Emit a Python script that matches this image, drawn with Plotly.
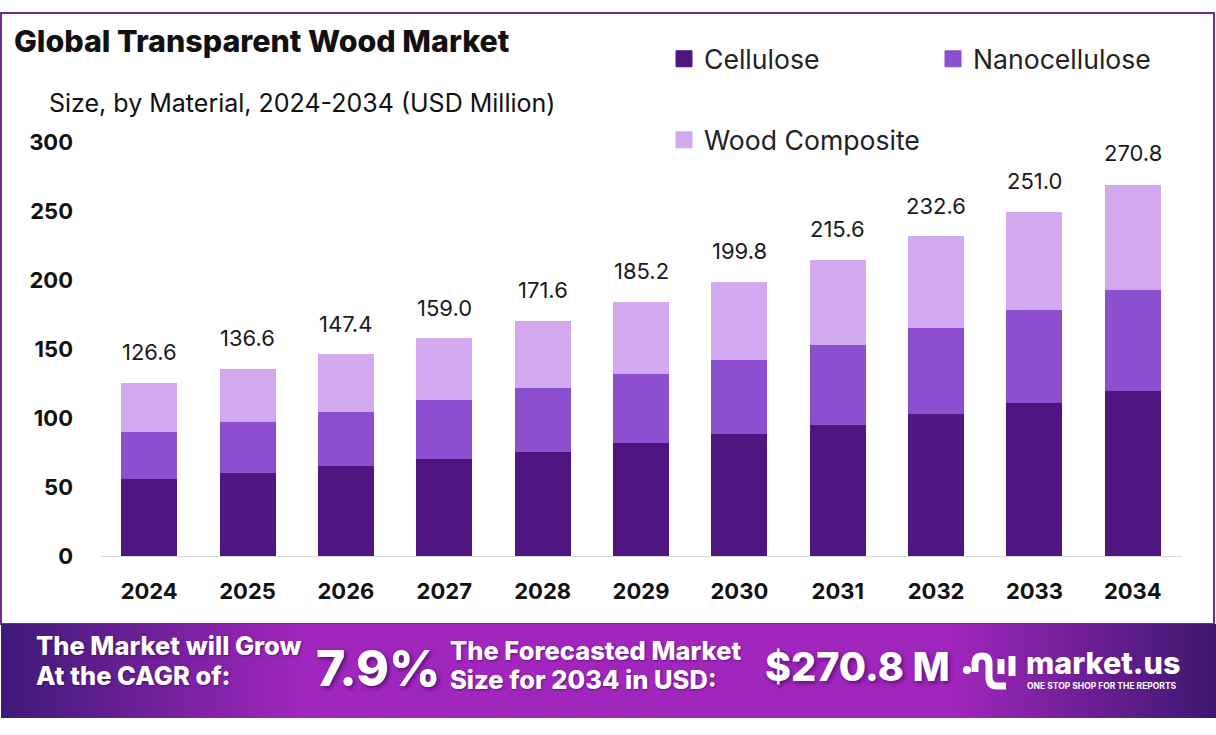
import plotly.graph_objects as go

W, H = 1216, 735
FONT = "Inter"
years = ["2024","2025","2026","2027","2028","2029","2030","2031","2032","2033","2034"]
cellulose = [55.8,60.1,65.2,70.3,75.4,81.9,88.4,94.9,102.9,110.9,119.6]
nanocellulose = [34.1,36.9,39.1,42.7,46.3,50.0,53.6,58.0,62.3,67.4,73.2]
wood_composite = [35.5,38.5,42.1,45.0,48.6,52.1,56.6,61.6,66.7,71.0,76.0]
totals = [126.6,136.6,147.4,159.0,171.6,185.2,199.8,215.6,232.6,251.0,270.8]
y_ticks = [0,50,100,150,200,250,300]
band_steps = [0,1,2,3]
band_colorscale = [[0,"#3f1a78"],[0.25,"#a126bd"],[0.78,"#a126bd"],[1,"#3d1870"]]

def px(x): return x/W
def py(y): return 1-y/H

fig = go.Figure()
series = [("Cellulose",cellulose,"#4f1580","legend"),
          ("Nanocellulose",nanocellulose,"#8b4fcf","legend2"),
          ("Wood Composite",wood_composite,"#d2a9ee","legend3")]
for name, vals, col, leg in series:
    fig.add_trace(go.Bar(x=years,y=vals,name=name,marker=dict(color=col,line=dict(width=0)),showlegend=False,hoverinfo="skip"))
for name, vals, col, leg in series:
    fig.add_trace(go.Scatter(x=[years[0]],y=[None],mode="markers",name=name,legend=leg,showlegend=True,
                             marker=dict(symbol="square",size=16,color=col,line=dict(width=1,color=col)),hoverinfo="skip"))

fig.add_trace(go.Heatmap(z=[band_steps,band_steps],x=band_steps,y=[0,1],xaxis="x2",yaxis="y2",
                         colorscale=band_colorscale,showscale=False,zsmooth="best",hoverinfo="skip"))

ann = []
for i, t in enumerate(totals):
    ann.append(dict(x=i,y=t,xref="x",yref="y",text=f"{t:.1f}",showarrow=False,yanchor="bottom",yshift=14,
                    font=dict(family=FONT,size=22,color="#1a1a1a")))

def label(x,y,text,size,color="#111111",weight=400,anchor="left",shadow=None):
    f = dict(family=FONT,size=size,color=color,weight=weight)
    if shadow: f["shadow"]=shadow
    ann.append(dict(x=px(x-2),y=py(y),xref="paper",yref="paper",text=text,showarrow=False,xanchor=anchor,yanchor="middle",font=f,align="left"))

label(14,41,"Global Transparent Wood Market",30.4,weight=800)
label(49,103,"Size, by Material, 2024-2034 (USD Million)",25)
white="#ffffff"; sh="2px 2px 4px rgba(40,0,70,0.6)"; sh2="1px 1px 2px rgba(40,0,70,0.5)"
label(36,645,"The Market will Grow",25.5,white,800,shadow=sh2)
label(36,675,"At the CAGR of:",25.5,white,800,shadow=sh2)
label(316,668,"7.9%",50,white,800,shadow=sh)
label(450,650,"The Forecasted Market",25.5,white,800,shadow=sh2)
label(450,679,"Size for 2034 in USD:",25.5,white,800,shadow=sh2)
label(765,667,"$270.8 M",39.5,white,800,shadow=sh)
label(1026,662,"market.us",30.5,white,800)
label(1027,686,"ONE STOP SHOP FOR THE REPORTS",8.5,white,700)

legend_base = dict(bgcolor="rgba(0,0,0,0)",font=dict(family=FONT,size=26.6,color="#222222"),
                   yanchor="middle",xanchor="left",itemclick=False,itemdoubleclick=False)

def path(cmds):
    out=[]
    for c in cmds:
        if isinstance(c,str): out.append(c)
        else: out.append(f"{px(c[0]):.5f},{py(c[1]):.5f}")
    return " ".join(out)

shapes = [
    dict(type="rect",xref="paper",yref="paper",x0=px(1),x1=px(1214),y0=py(13),y1=py(624),
         line=dict(color="#6e2c91",width=2),fillcolor="rgba(0,0,0,0)",layer="below"),
    dict(type="circle",xref="paper",yref="paper",x0=px(963),x1=px(971),y0=py(674),y1=py(666),fillcolor="white",line=dict(width=0)),
    dict(type="path",xref="paper",yref="paper",line=dict(color="white",width=7),
         path=path(["M",(975,672),"L",(975,664),"Q",(975,656),(982,656),"Q",(989,656),(989,664),"L",(989,677),"Q",(989,686),(997,686),"L",(1006,686)])),
    dict(type="path",xref="paper",yref="paper",line=dict(color="white",width=7),
         path=path(["M",(1001,674),"L",(1001,659)])),
    dict(type="path",xref="paper",yref="paper",line=dict(color="white",width=7),
         path=path(["M",(1012,676),"L",(1012,656)])),
]

fig.update_layout(
    width=W,height=H,margin=dict(l=0,r=0,t=0,b=0,autoexpand=False),
    paper_bgcolor="white",plot_bgcolor="rgba(0,0,0,0)",barmode="stack",bargap=0.43,showlegend=True,
    font=dict(family=FONT),
    xaxis=dict(domain=[px(100),px(1182)],type="category",categoryorder="array",categoryarray=years,range=[-0.5,10.5],
               showgrid=False,showline=True,linecolor="#d9d9d9",linewidth=1,
               ticks="",tickfont=dict(family=FONT,size=22,color="#111111",weight=700),ticklabelstandoff=16,anchor="y"),
    yaxis=dict(domain=[py(556),py(142)],range=[0,300],tickvals=y_ticks,showgrid=False,showline=False,zeroline=False,
               ticks="",tickfont=dict(family=FONT,size=22,color="#111111",weight=700),ticklabelstandoff=26,anchor="x"),
    xaxis2=dict(domain=[px(1),1],range=[0,3],visible=False,anchor="y2",fixedrange=True),
    yaxis2=dict(domain=[py(718),py(624)],range=[0,1],visible=False,anchor="x2",fixedrange=True),
    legend=dict(legend_base,x=px(664),y=py(59)),
    legend2=dict(legend_base,x=px(933),y=py(59)),
    legend3=dict(legend_base,x=px(664),y=py(140)),
    annotations=ann,shapes=shapes,
)
fig.write_html("out.html",config={"displayModeBar":False},post_script="document.body.style.margin='0';")
